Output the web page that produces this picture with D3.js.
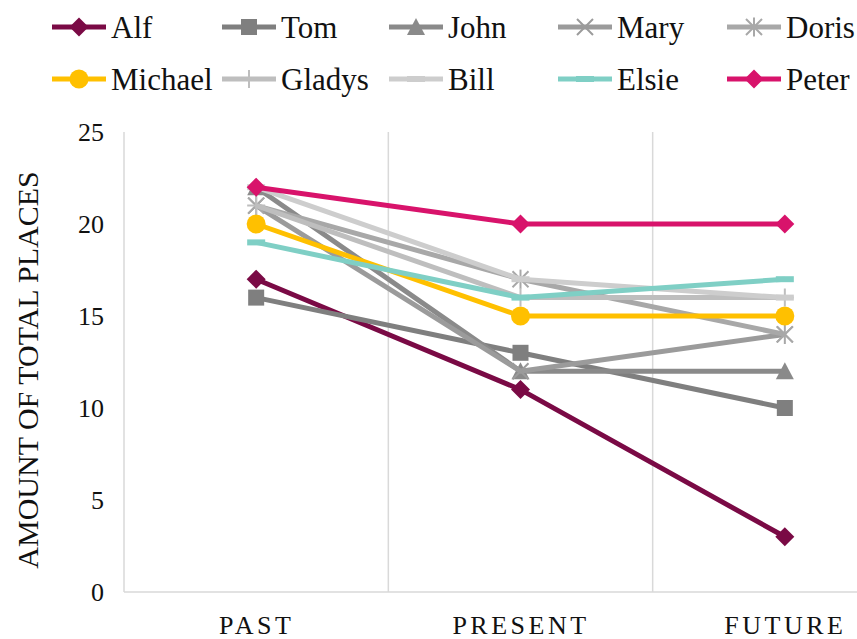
<!DOCTYPE html>
<html>
<head>
<meta charset="utf-8">
<script src="https://cdn.jsdelivr.net/npm/d3@7"></script>
<style>
  html, body { margin: 0; padding: 0; background: #fff; }
  svg { display: block; }
  svg text { font-family: "Liberation Serif", Tinos, "Nimbus Roman", "Noto Serif", FreeSerif, "DejaVu Serif", "Times New Roman", Times, serif; }
</style>
</head>
<body>
<svg id="chart" width="857" height="639"></svg>
<script>
// Time periods along the x axis
const periods = ["PAST", "PRESENT", "FUTURE"];

// Places per person for each period
const names = ["Alf", "Tom", "John", "Mary", "Doris", "Michael", "Gladys", "Bill", "Elsie", "Peter"];
const alf     = [17, 11, 3];
const tom     = [16, 13, 10];
const john    = [22, 12, 12];
const mary    = [21, 12, 14];
const doris   = [21, 17, 14];
const michael = [20, 15, 15];
const gladys  = [21, 16, 16];
const bill    = [22, 17, 16];
const elsie   = [19, 16, 17];
const peter   = [22, 20, 20];

const colors  = ["#7a0a45", "#7f7f7f", "#8a8a8a", "#9b9b9b", "#a8a8a8", "#ffc000", "#bebebe", "#cdcdcd", "#7fcfc5", "#d8136b"];
const markers = ["diamond", "square", "triangle", "x", "asterisk", "circle", "plus", "dash", "dash", "diamond"];

const yTicks = [0, 5, 10, 15, 20, 25];

const seriesValues = [alf, tom, john, mary, doris, michael, gladys, bill, elsie, peter];
const series = names.map((n, i) => ({ name: n, values: seriesValues[i], color: colors[i], marker: markers[i] }));

const svg = d3.select("#chart");

const plotLeft = 124, plotRight = 917, plotTop = 132, plotBottom = 592;

const x = d3.scalePoint().domain(periods).range([plotLeft, plotRight]).padding(0.5);
const xBand = d3.scaleBand().domain(periods).range([plotLeft, plotRight]);
const y = d3.scaleLinear().domain([0, 25]).range([plotBottom, plotTop]);

// Frame and category separators
const grid = svg.append("g").attr("stroke", "#d9d9d9").attr("stroke-width", 1.5);
grid.append("line").attr("x1", plotLeft).attr("x2", plotLeft).attr("y1", plotTop).attr("y2", plotBottom);
grid.append("line").attr("x1", plotLeft).attr("x2", plotRight).attr("y1", plotBottom).attr("y2", plotBottom);
periods.slice(1).forEach(p => {
  grid.append("line").attr("x1", xBand(p)).attr("x2", xBand(p)).attr("y1", plotTop).attr("y2", plotBottom);
});

// Y axis labels
const yAxis = d3.axisLeft(y).tickValues(yTicks).tickSize(0).tickPadding(0);
const yg = svg.append("g").attr("transform", `translate(104,0)`).call(yAxis);
yg.attr("font-family", null);
yg.select(".domain").remove();
yg.selectAll("text").attr("font-size", 26).attr("fill", "#111").attr("dy", "0.32em");

// X axis labels
const xAxis = d3.axisBottom(x).tickSize(0).tickPadding(0);
const xg = svg.append("g").attr("transform", `translate(0,${plotBottom})`).call(xAxis);
xg.attr("font-family", null);
xg.select(".domain").remove();
xg.selectAll("text").attr("font-size", 26).attr("fill", "#111")
  .attr("letter-spacing", "3.5px").attr("y", 42).attr("dy", 0);

// Y axis title
svg.append("text")
  .attr("transform", `translate(38,${(plotTop + plotBottom) / 2 + 8}) rotate(-90)`)
  .attr("text-anchor", "middle")
  .attr("font-size", 30)
  .attr("fill", "#111")
  .text("AMOUNT OF TOTAL PLACES");

// Marker drawing
function drawMarker(g, type, color, cx, cy, scale) {
  const s = scale || 1;
  const m = g.append("g").attr("transform", `translate(${cx},${cy})`);
  if (type === "diamond") {
    const r = 9.5 * s;
    m.append("path").attr("d", `M0,${-r}L${r},0L0,${r}L${-r},0Z`).attr("fill", color);
  } else if (type === "square") {
    const h = 8 * s;
    m.append("rect").attr("x", -h).attr("y", -h).attr("width", 2 * h).attr("height", 2 * h).attr("fill", color);
  } else if (type === "triangle") {
    const h = 9 * s;
    m.append("path").attr("d", `M0,${-h}L${h},${h * 0.9}L${-h},${h * 0.9}Z`).attr("fill", color);
  } else if (type === "circle") {
    m.append("circle").attr("r", 9.5 * s).attr("fill", color);
  } else if (type === "x" || type === "asterisk") {
    const h = 8 * s;
    m.append("path").attr("d", `M${-h},${-h}L${h},${h}M${-h},${h}L${h},${-h}`)
      .attr("stroke", color).attr("stroke-width", 2);
    if (type === "asterisk") {
      m.append("path").attr("d", `M0,${-h * 1.2}L0,${h * 1.2}`).attr("stroke", color).attr("stroke-width", 2);
    }
  } else if (type === "plus") {
    const h = 9 * s;
    m.append("path").attr("d", `M${-h},0L${h},0M0,${-h}L0,${h}`).attr("stroke", color).attr("stroke-width", 2);
  } else if (type === "dash") {
    const h = 9 * s;
    m.append("path").attr("d", `M${-h},0L${h},0`).attr("stroke", color).attr("stroke-width", 6);
  }
}

// Series lines and markers
const line = d3.line().x((d, i) => x(periods[i])).y(d => y(d));
const plot = svg.append("g");
series.forEach(s => {
  const g = plot.append("g");
  g.append("path").datum(s.values).attr("d", line)
    .attr("fill", "none").attr("stroke", s.color).attr("stroke-width", 5).attr("stroke-linejoin", "round");
  s.values.forEach((v, i) => drawMarker(g, s.marker, s.color, x(periods[i]), y(v)));
});

// Legend
const legendCols = [52, 222, 389, 558, 727];
const legendRows = [27, 79];
const legend = svg.append("g");
series.forEach((s, i) => {
  const lx = legendCols[i % 5], ly = legendRows[Math.floor(i / 5)];
  const g = legend.append("g");
  g.append("line").attr("x1", lx).attr("x2", lx + 54).attr("y1", ly).attr("y2", ly)
    .attr("stroke", s.color).attr("stroke-width", 5);
  drawMarker(g, s.marker, s.color, lx + 27, ly, 1);
  g.append("text").attr("x", lx + 59).attr("y", ly).attr("dy", "0.34em")
    .attr("font-size", 31).attr("fill", "#111").text(s.name);
});
</script>
</body>
</html>
